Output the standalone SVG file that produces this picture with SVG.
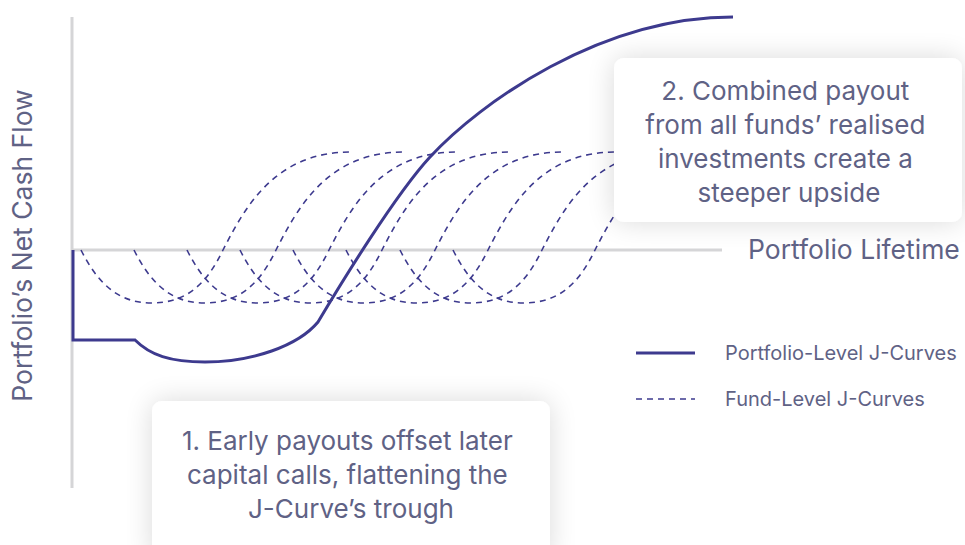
<svg xmlns="http://www.w3.org/2000/svg" width="965" height="545" viewBox="0 0 965 545">
  <defs>
    <style>
      .axis { stroke: #d5d5d7; stroke-width: 3; fill: none; }
      .fund { stroke: #3d3a8e; stroke-width: 1.6; fill: none; stroke-dasharray: 6 5; }
      .port { stroke: #3d3a8e; stroke-width: 3; fill: none; stroke-linejoin: miter; }
      .lbl { font-family: Inter, "Liberation Sans", sans-serif; fill: #5f6285; }
      .box { fill: #ffffff; filter: url(#shadow); }
    </style>
    <filter id="shadow" x="-30%" y="-40%" width="160%" height="180%">
      <feGaussianBlur in="SourceAlpha" stdDeviation="14"/>
      <feComponentTransfer><feFuncA type="linear" slope="0.15"/></feComponentTransfer>
      <feMerge><feMergeNode/><feMergeNode in="SourceGraphic"/></feMerge>
    </filter>
    <path id="fc" d="M0,0 C15,30 35,53 70,53 C105,53 125,35 142,0 C165,-45 195,-98 270,-98"/>
  </defs>
  <rect width="965" height="545" fill="#ffffff"/>

  <g id="axes">
    <line class="axis" x1="72" y1="17" x2="72" y2="488"/>
    <line class="axis" x1="72" y1="250" x2="722" y2="250"/>
  </g>

  <g id="fund-curves">
    <use href="#fc" class="fund" x="81" y="250"/>
    <use href="#fc" class="fund" x="134" y="250"/>
    <use href="#fc" class="fund" x="187" y="250"/>
    <use href="#fc" class="fund" x="240" y="250"/>
    <use href="#fc" class="fund" x="293" y="250"/>
    <use href="#fc" class="fund" x="346" y="250"/>
    <use href="#fc" class="fund" x="400" y="250"/>
    <use href="#fc" class="fund" x="453" y="250"/>
  </g>

  <g id="portfolio-curve">
    <path class="port" d="M73,250 V340 H135 C150,355 170,362 205,362 C252,362 298,346 318,322 C340,285 395,195 430,157 C480,103 600,17 733,17"/>
  </g>

  <g id="callout-2">
    <rect class="box" x="614" y="58" width="348" height="164" rx="10"/>
    <text class="lbl" font-size="26" text-anchor="middle">
      <tspan x="789" y="100">2. Combined payout</tspan>
      <tspan x="789" y="134">from all funds’ realised</tspan>
      <tspan x="789" y="168">investments create a</tspan>
      <tspan x="789" y="202">steeper upside</tspan>
    </text>
  </g>

  <g id="callout-1">
    <rect class="box" x="152" y="401" width="398" height="160" rx="10"/>
    <text class="lbl" font-size="26" text-anchor="middle">
      <tspan x="351" y="450">1. Early payouts offset later</tspan>
      <tspan x="351" y="484">capital calls, flattening the</tspan>
      <tspan x="351" y="518">J-Curve’s trough</tspan>
    </text>
  </g>

  <g id="axis-labels">
    <text class="lbl" font-size="26.5" x="748" y="259">Portfolio Lifetime</text>
    <text class="lbl" font-size="26.5" text-anchor="middle" transform="translate(32,245.5) rotate(-90)">Portfolio’s Net Cash Flow</text>
  </g>

  <g id="legend">
    <line x1="636" y1="353" x2="695" y2="353" stroke="#3d3a8e" stroke-width="3"/>
    <text class="lbl" font-size="20" x="725" y="360">Portfolio-Level J-Curves</text>
    <line class="fund" x1="636" y1="399" x2="695" y2="399"/>
    <text class="lbl" font-size="20" x="725" y="406">Fund-Level J-Curves</text>
  </g>
</svg>
